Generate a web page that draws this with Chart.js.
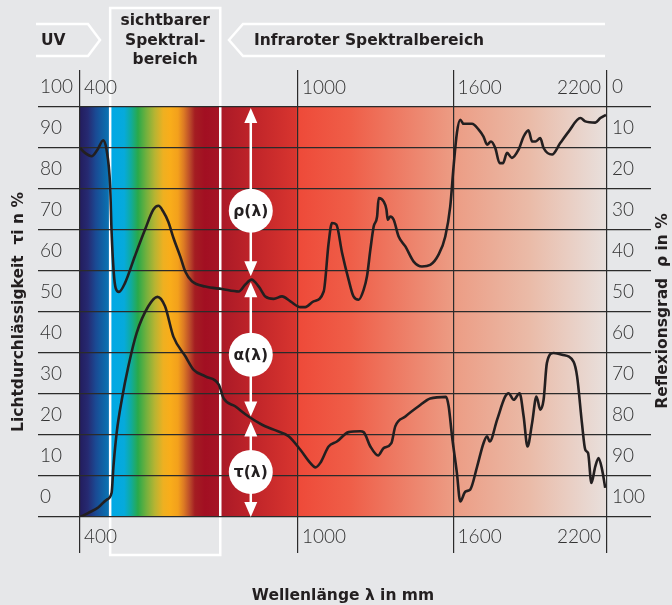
<!DOCTYPE html>
<html lang="de">
<head>
<meta charset="utf-8">
<title>Spektralbereich</title>
<script src="https://cdn.jsdelivr.net/npm/chart.js@4.4.1/dist/chart.umd.min.js"></script>
<style>
  html, body { margin: 0; padding: 0; background: #e6e7e9; }
  #wrap { position: relative; width: 672px; height: 605px; }
</style>
</head>
<body>
<div id="wrap"><canvas id="spectrumChart"></canvas></div>
<script>
// Wavelength ticks (nm) - the axis is stretched, so each tick gets its share of the plot width
const xTicks = [400, 1000, 1600, 2200];
const xTickShare = [0, 0.4137, 0.7089, 1];

// Transmission tau (left axis, %)
const tauLambda = [400, 423, 450, 473, 487, 492, 501, 515, 533, 556, 588, 613, 634, 657, 690, 713, 745, 782, 795, 827,
    864, 901, 933, 974, 1009, 1047, 1067, 1086, 1118, 1150, 1195, 1240, 1253, 1279, 1309, 1330, 1360, 1375, 1414, 1465,
    1510, 1571, 1581, 1594, 1613, 1626, 1646, 1665, 1692, 1717, 1731, 1741, 1770, 1802, 1815, 1835, 1858, 1874, 1889, 1907,
    1924, 1939, 1952, 1965, 1991, 2024, 2069, 2083, 2102, 2115, 2126, 2139, 2154, 2167, 2181, 2193];
const tauValues = [0, 1.0, 2.3, 4.2, 5.9, 12.3, 20.6, 28.6, 36.7, 44.9, 51.4, 53.7, 51.4, 44, 39.2, 35.9, 34.3, 32.3, 29.0, 27.0,
    24.5, 22.5, 21.3, 19.7, 16.4, 13.2, 12.1, 13.2, 17.2, 18.4, 20.7, 20.9, 20.7, 17.2, 15.0, 16.8, 18.0, 22.1, 24.5, 27.0,
    28.9, 29.3, 27.0, 19.7, 10.7, 3.8, 6.2, 6.7, 12.3, 18.0, 19.7, 18.4, 23.7, 29.4, 30.2, 28.6, 30.2, 24.5, 17.2, 22.9,
    29.4, 26.2, 28.6, 37.6, 40.0, 39.6, 37.9, 34.3, 22.9, 16.4, 15.6, 8.3, 12.3, 14.4, 11.5, 7.1];

// Reflection rho (right axis, %, counted from the top)
const rhoLambda = [400, 414, 432, 448, 464, 473, 483, 487, 493, 498, 507, 524, 551, 579, 602, 616, 629, 643, 657, 676,
    690, 708, 745, 791, 837, 855, 872, 892, 910, 933, 956, 979, 1009, 1028, 1060, 1099, 1118, 1131, 1148, 1170,
    1195, 1214, 1234, 1253, 1266, 1279, 1292, 1305, 1311, 1330, 1341, 1346, 1356, 1369, 1388, 1414, 1446, 1478, 1510, 1542,
    1568, 1587, 1600, 1613, 1626, 1639, 1672, 1698, 1717, 1731, 1746, 1763, 1780, 1793, 1809, 1828, 1854, 1874, 1893, 1907,
    1920, 1939, 1952, 1985, 2017, 2050, 2096, 2115, 2154, 2174, 2196];
const rhoValues = [10.0, 11.2, 12.0, 10.4, 8.1, 10.4, 19.4, 30.7, 40.5, 44.1, 45.1, 42.9, 36.4, 29.9, 25.0, 24.1, 25.5, 28.0, 31.9, 36.5,
    40.2, 42.5, 43.8, 44.4, 45.0, 43.3, 42.1, 43.8, 46.2, 46.8, 46.2, 47.4, 48.8, 48.8, 47.4, 45.0, 33.2, 28.3, 28.7, 35.6,
    42.1, 46.2, 47.0, 44.6, 41.3, 34.8, 29.1, 26.7, 22.2, 23.0, 25.0, 27.5, 26.7, 27.5, 31.6, 34.0, 37.7, 38.9, 38.5, 36.0,
    31.6, 24.3, 14.5, 6.3, 3.1, 4.1, 4.1, 5.5, 7.2, 9.2, 8.4, 10.0, 13.7, 13.7, 11.2, 12.4, 10.4, 7.2, 5.7, 8.4,
    8.4, 7.6, 10.0, 11.6, 8.8, 6.0, 2.7, 3.5, 3.8, 2.7, 1.9];

// Visible range box (nm) and the rho/alpha/tau arrows
const visibleRange = [483, 786];
const arrowLambda = 870;
const rhoAtArrow = 42;
const tauAtArrow = 24;
const arrowLabels = ['ρ(λ)', 'α(λ)', 'τ(λ)'];
const arrowLabelAt = [74.7, 39.6, 11]; // tau axis values

const BG = '#e6e7e9';
const INK = '#231f20';
const GRID = '#2b2b2b';
const TICK_FONT = { family: 'Lato, "Noto Sans", sans-serif', size: 19, weight: 300 };
const HEAD_FONT = 'bold 15.5px "DejaVu Sans", sans-serif';

// colour band behind the plot, as share of the plot width
const bandStops = [
    [0, '#231d5e'], [0.015, '#262a72'], [0.030, '#1a4a94'], [0.046, '#0e66a8'], [0.055, '#0a74b4'],
    [0.058, '#00a8e6'], [0.084, '#06aadb'], [0.097, '#10ab9c'], [0.110, '#29a94a'], [0.125, '#6fb03e'],
    [0.142, '#b7b432'], [0.158, '#eeb021'], [0.171, '#f9ad1a'], [0.186, '#f3a01c'], [0.197, '#dc7a24'],
    [0.209, '#b9482a'], [0.218, '#a41d22'], [0.237, '#a20f22'], [0.262, '#a51425'], [0.269, '#ab1a27'],
    [0.323, '#be2329'], [0.410, '#d8352f'], [0.414, '#ee4a39'], [0.512, '#ef5e48'], [0.708, '#ec9c84'],
    [0.854, '#eabba8'], [1, '#e8e0dd']
];

// Piecewise linear wavelength scale
class SpectrumScale extends Chart.LinearScale {
    getPixelForValue(v) {
        if (v === null || isNaN(v)) return NaN;
        let i = 1;
        while (i < xTicks.length - 1 && v > xTicks[i]) i++;
        const t = (v - xTicks[i - 1]) / (xTicks[i] - xTicks[i - 1]);
        return this.getPixelForDecimal(xTickShare[i - 1] + t * (xTickShare[i] - xTickShare[i - 1]));
    }
    getValueForPixel(p) {
        const d = this.getDecimalForPixel(p);
        let i = 1;
        while (i < xTickShare.length - 1 && d > xTickShare[i]) i++;
        const t = (d - xTickShare[i - 1]) / (xTickShare[i] - xTickShare[i - 1]);
        return xTicks[i - 1] + t * (xTicks[i] - xTicks[i - 1]);
    }
}
SpectrumScale.id = 'spectrum';
SpectrumScale.defaults = Chart.LinearScale.defaults;
Chart.register(SpectrumScale);

function drawArrow(ctx, x, yTop, yBottom) {
    const hl = 15, hw = 6.5;
    ctx.beginPath();
    ctx.moveTo(x, yTop + hl - 2);
    ctx.lineTo(x, yBottom - hl + 2);
    ctx.stroke();
    ctx.beginPath();
    ctx.moveTo(x, yTop); ctx.lineTo(x - hw, yTop + hl); ctx.lineTo(x + hw, yTop + hl); ctx.closePath();
    ctx.moveTo(x, yBottom); ctx.lineTo(x - hw, yBottom - hl); ctx.lineTo(x + hw, yBottom - hl); ctx.closePath();
    ctx.fill();
}

const spectrumPlugin = {
    id: 'spectrumDecor',
    beforeDraw(chart) {
        const { ctx, chartArea: a } = chart;
        const xs = chart.scales.x;
        ctx.save();
        ctx.fillStyle = BG;
        ctx.fillRect(0, 0, chart.width, chart.height);

        const g = ctx.createLinearGradient(a.left, 0, a.right, 0);
        bandStops.forEach(([f, c]) => g.addColorStop(f, c));
        ctx.fillStyle = g;
        ctx.fillRect(a.left, a.top, a.right - a.left, a.bottom - a.top);

        // visible range box
        const vx0 = xs.getPixelForValue(visibleRange[0]);
        const vx1 = xs.getPixelForValue(visibleRange[1]);
        ctx.strokeStyle = '#ffffff';
        ctx.lineWidth = 2.5;
        ctx.strokeRect(vx0, 8, vx1 - vx0, 547);

        // UV and infrared tags
        ctx.lineWidth = 2.5;
        ctx.lineJoin = 'miter';
        ctx.beginPath();
        ctx.moveTo(36, 24); ctx.lineTo(88, 24); ctx.lineTo(100, 40); ctx.lineTo(88, 56); ctx.lineTo(36, 56);
        ctx.stroke();
        ctx.beginPath();
        ctx.moveTo(605, 24); ctx.lineTo(243, 24); ctx.lineTo(229, 40); ctx.lineTo(243, 56); ctx.lineTo(605, 56);
        ctx.stroke();

        ctx.fillStyle = INK;
        ctx.font = HEAD_FONT;
        ctx.textBaseline = 'middle';
        ctx.textAlign = 'left';
        ctx.fillText('UV', 41, 41);
        ctx.fillText('Infraroter Spektralbereich', 254, 41);
        ctx.textAlign = 'center';
        const cx = (vx0 + vx1) / 2;
        ctx.fillText('sichtbarer', cx, 21);
        ctx.fillText('Spektral-', cx, 41);
        ctx.fillText('bereich', cx, 60);
        ctx.restore();
    },
    afterDraw(chart) {
        const { ctx } = chart;
        const xs = chart.scales.x, yl = chart.scales.y, yr = chart.scales.y1;
        ctx.save();

        // wavelength tick labels, top and bottom
        ctx.fillStyle = '#333333';
        ctx.font = `${TICK_FONT.weight} ${TICK_FONT.size}px ${TICK_FONT.family}`;
        ctx.textBaseline = 'middle';
        xTicks.forEach((v, i) => {
            const px = xs.getPixelForValue(v);
            const last = i === xTicks.length - 1;
            ctx.textAlign = last ? 'right' : 'left';
            const tx = last ? px - 6 : px + 4;
            ctx.fillText(String(v), tx, 88);
            ctx.fillText(String(v), tx, 537);
        });

        // rho / alpha / tau arrows
        const ax = xs.getPixelForValue(arrowLambda);
        const yTop = yl.getPixelForValue(100);
        const yRho = yr.getPixelForValue(rhoAtArrow);
        const yTau = yl.getPixelForValue(tauAtArrow);
        const yBot = yl.getPixelForValue(0);
        ctx.strokeStyle = '#ffffff';
        ctx.fillStyle = '#ffffff';
        ctx.lineWidth = 2.5;
        drawArrow(ctx, ax, yTop + 1, yRho - 3);
        drawArrow(ctx, ax, yRho + 3, yTau - 2);
        drawArrow(ctx, ax, yTau + 3, yBot);

        arrowLabels.forEach((txt, i) => {
            const cy = yl.getPixelForValue(arrowLabelAt[i]);
            ctx.fillStyle = '#ffffff';
            ctx.beginPath();
            ctx.arc(ax, cy, 22, 0, Math.PI * 2);
            ctx.fill();
            ctx.fillStyle = INK;
            ctx.font = HEAD_FONT;
            ctx.textAlign = 'center';
            ctx.fillText(txt, ax, cy + 1);
        });

        // axis titles
        ctx.fillStyle = INK;
        ctx.font = HEAD_FONT;
        ctx.textAlign = 'center';
        ctx.fillText('Wellenlänge λ in mm', 343, 596);
        ctx.save();
        ctx.translate(19, 312);
        ctx.rotate(-Math.PI / 2);
        ctx.fillText('Lichtdurchlässigkeit  τi n %', 0, 0);
        ctx.restore();
        ctx.save();
        ctx.translate(663, 311);
        ctx.rotate(-Math.PI / 2);
        ctx.fillText('Reflexionsgrad  ρ in %', 0, 0);
        ctx.restore();

        ctx.restore();
    }
};

const gridBase = { color: GRID, lineWidth: 1.2 };

let spectrumChart;

function initChart() {
    const ctx = document.getElementById('spectrumChart').getContext('2d');
    spectrumChart = new Chart(ctx, {
        type: 'line',
        data: {
            datasets: [
                {
                    label: 'τ(λ)',
                    data: tauLambda.map((l, i) => ({ x: l, y: tauValues[i] })),
                    yAxisID: 'y',
                    borderColor: INK, borderWidth: 2.6,
                    cubicInterpolationMode: 'monotone', pointRadius: 0, fill: false
                },
                {
                    label: 'ρ(λ)',
                    data: rhoLambda.map((l, i) => ({ x: l, y: rhoValues[i] })),
                    yAxisID: 'y1',
                    borderColor: INK, borderWidth: 2.6,
                    cubicInterpolationMode: 'monotone', pointRadius: 0, fill: false
                }
            ]
        },
        options: {
            responsive: true,
            maintainAspectRatio: false,
            animation: false,
            layout: { padding: { top: 70, left: 40, right: 0, bottom: 0 } },
            plugins: { legend: { display: false }, tooltip: { enabled: false } },
            scales: {
                x: {
                    type: 'spectrum', position: 'bottom', min: 400, max: 2200,
                    afterBuildTicks: s => { s.ticks = xTicks.map(v => ({ value: v })); },
                    afterFit: s => { s.height = 88; },
                    grid: { ...gridBase, tickLength: 36 },
                    border: { display: false },
                    ticks: { display: false }
                },
                xTop: {
                    type: 'spectrum', position: 'top', min: 400, max: 2200,
                    afterBuildTicks: s => { s.ticks = xTicks.map(v => ({ value: v })); },
                    afterFit: s => { s.height = 37; },
                    grid: { ...gridBase, tickLength: 37, drawOnChartArea: false },
                    border: { display: false },
                    ticks: { display: false }
                },
                y: {
                    position: 'left', min: 0, max: 100,
                    afterFit: s => { s.width = 40; },
                    grid: { ...gridBase, tickLength: 42 },
                    border: { display: false },
                    ticks: {
                        stepSize: 10, autoSkip: false, crossAlign: 'far', labelOffset: -20.5,
                        color: '#333333', font: TICK_FONT
                    }
                },
                y1: {
                    position: 'right', min: 0, max: 100, reverse: true,
                    afterFit: s => { s.width = 65; },
                    grid: { ...gridBase, tickLength: 44, drawOnChartArea: false },
                    border: { display: false },
                    ticks: {
                        stepSize: 10, autoSkip: false, crossAlign: 'near', padding: -39, labelOffset: -20.5,
                        color: '#333333', font: TICK_FONT
                    }
                }
            }
        },
        plugins: [spectrumPlugin]
    });
}

document.addEventListener('DOMContentLoaded', initChart);
</script>
</body>
</html>
